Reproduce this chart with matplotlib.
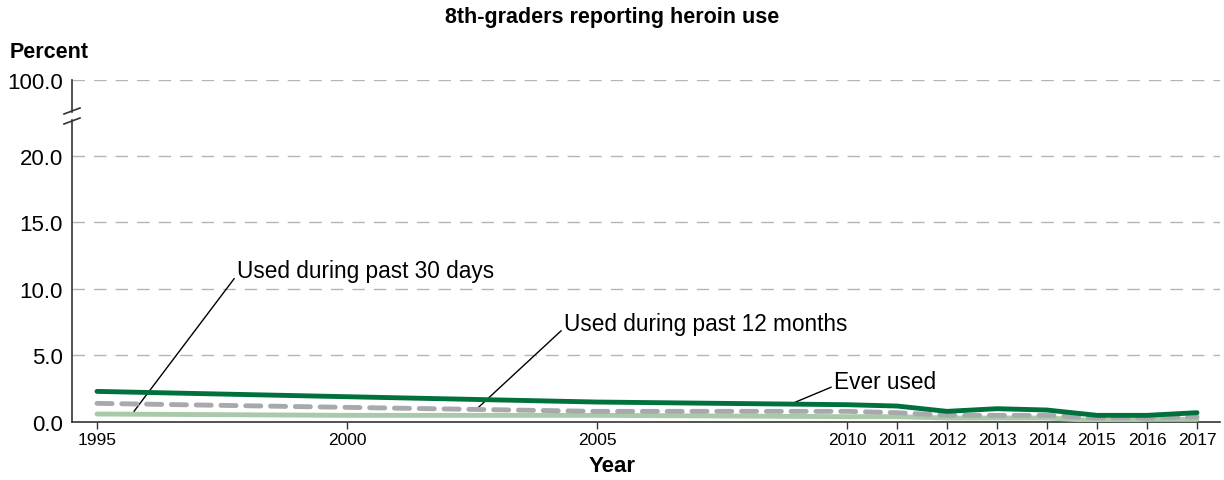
import matplotlib.pyplot as plt

plt.rcParams['font.family'] = ['Liberation Sans', 'DejaVu Sans']

years = [1995, 2000, 2005, 2010, 2011, 2012, 2013, 2014, 2015, 2016, 2017]
ever_used = [2.3, 1.9, 1.5, 1.3, 1.2, 0.8, 1.0, 0.9, 0.5, 0.5, 0.7]
past_12_months = [1.4, 1.1, 0.8, 0.8, 0.7, 0.5, 0.5, 0.5, 0.3, 0.3, 0.4]
past_30_days = [0.6, 0.5, 0.5, 0.4, 0.4, 0.3, 0.3, 0.3, 0.1, 0.2, 0.2]

ytick_vals = [0, 5, 10, 15, 20]
ytick_labels = ['0.0', '5.0', '10.0', '15.0', '20.0', '100.0']
top_pos = 25.7  # where 100.0 sits on the broken axis

fig = plt.figure(figsize=(12.24, 4.81), dpi=100)
ax_h = 423 - 81
ax = fig.add_axes([72/1224, 1 - 423/481, 1148/1224, ax_h/481])

ax.plot(years, past_30_days, color='#a9c9a9', lw=3.5, solid_capstyle='round', zorder=3)
ax.plot(years, past_12_months, color='#a7a9ac', lw=3.5, dashes=(3.1, 2.0), dash_capstyle='round', zorder=4)
ax.plot(years, ever_used, color='#00703c', lw=3.5, solid_capstyle='round', zorder=5)

ax.set_xlim(1994.5, 2017.46)
ax.set_ylim(0, top_pos)
ax.set_xticks(years)
ax.set_xticklabels([str(y) for y in years], fontsize=12.5)
ax.set_yticks(ytick_vals + [top_pos])
ax.set_yticklabels(ytick_labels, fontsize=16)
ax.tick_params(axis='y', length=0, pad=6.5)
ax.tick_params(axis='x', length=5, width=1, color='#333333', pad=2)

for v in ytick_vals[1:] + [top_pos]:
    ax.axhline(v, color='#b4b4bc', lw=1, dashes=(9, 6.5), zorder=1)

for s in ['top', 'right', 'left']:
    ax.spines[s].set_visible(False)
ax.spines['bottom'].set_color('#333333')
ax.spines['bottom'].set_linewidth(1.2)

# broken left axis
b1, b2 = (423 - 113) / ax_h, (423 - 121) / ax_h
ax.plot([0, 0], [0, b2], transform=ax.transAxes, color='#333333', lw=1.2, clip_on=False)
ax.plot([0, 0], [b1, 1], transform=ax.transAxes, color='#333333', lw=1.2, clip_on=False)
dx, dy = 8/1148, 3/ax_h
for b in [(423 - 112) / ax_h, (423 - 122) / ax_h]:
    ax.plot([-dx, dx], [b - dy, b + dy], transform=ax.transAxes, color='#333333', lw=1.2, clip_on=False)

arrow = dict(arrowstyle='-', color='black', lw=1, relpos=(0, 0.3), shrinkA=0, shrinkB=0)
ax.annotate('Used during past 30 days', xy=(1995.74, 0.8), xytext=(1997.8, 11.4),
            fontsize=16.3, va='center', ha='left', arrowprops=arrow)
ax.annotate('Used during past 12 months', xy=(2002.6, 1.0), xytext=(2004.34, 7.4),
            fontsize=16.3, va='center', ha='left', arrowprops=arrow)
ax.annotate('Ever used', xy=(2008.96, 1.48), xytext=(2009.74, 3.05),
            fontsize=16.3, va='center', ha='left', arrowprops=arrow)

fig.text(0.5, 1 - 18/481, '8th-graders reporting heroin use', ha='center', va='center',
         fontsize=15.5, fontweight='bold')
fig.text(10/1224, 1 - 53/481, 'Percent', ha='left', va='center', fontsize=15.5, fontweight='bold')
fig.text(612/1224, 1 - 466/481, 'Year', ha='center', va='center', fontsize=16, fontweight='bold')

fig.savefig('out.png', dpi=100)
